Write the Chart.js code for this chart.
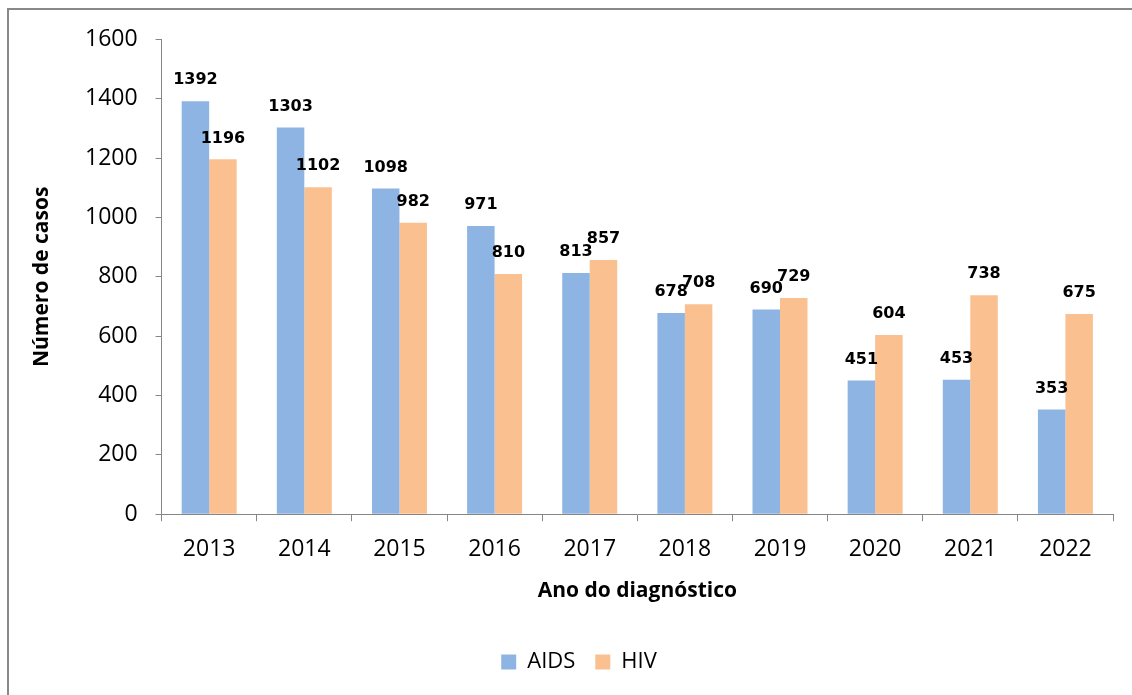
<!DOCTYPE html>
<html lang="pt-br">
<head>
    <meta charset="UTF-8">
    <title>Casos de AIDS e HIV por ano do diagnóstico</title>
    <script src="https://cdn.jsdelivr.net/npm/chart.js"></script>
    <style>
        html, body { margin: 0; padding: 0; background: #fff; overflow: hidden; }
        body { width: 1132px; height: 695px; position: relative; }
        #moldura {
            position: absolute; left: 7px; top: 8px;
            width: 1160px; height: 720px;
            border: 2px solid #888;
            background: #fff;
        }
        #grafico { position: absolute; left: 0; top: 0; }
    </style>
</head>
<body>
    <div id="moldura">
        <canvas id="grafico" width="1140" height="700"></canvas>
    </div>

<script>
    // dados
    const anos = ['2013', '2014', '2015', '2016', '2017', '2018', '2019', '2020', '2021', '2022'];
    const casosAids = [1392, 1303, 1098, 971, 813, 678, 690, 451, 453, 353];
    const casosHiv = [1196, 1102, 982, 810, 857, 708, 729, 604, 738, 675];
    const ticksY = [0, 200, 400, 600, 800, 1000, 1200, 1400, 1600];

    const corEixo = '#868686';
    const fonte = '"Open Sans", sans-serif';

    // rótulos com o valor em cima de cada barra
    const rotulos = {
        id: 'rotulos',
        afterDatasetsDraw(chart) {
            const ctx = chart.ctx;
            ctx.save();
            ctx.font = 'bold 16px "DejaVu Sans"';
            ctx.fillStyle = '#000';
            ctx.textAlign = 'center';
            ctx.textBaseline = 'middle';
            chart.data.datasets.forEach((ds, i) => {
                chart.getDatasetMeta(i).data.forEach((barra, j) => {
                    ctx.fillText(ds.data[j], barra.x, barra.y - 21);
                });
            });
            ctx.restore();
        }
    };

    new Chart(document.getElementById('grafico'), {
        type: 'bar',
        data: {
            labels: anos,
            datasets: [
                { label: 'AIDS', data: casosAids, backgroundColor: '#8EB4E3' },
                { label: 'HIV', data: casosHiv, backgroundColor: '#FAC090' }
            ]
        },
        options: {
            responsive: false,
            animation: false,
            layout: { padding: { left: 36, right: 36, top: 0, bottom: 27 } },
            datasets: { bar: { categoryPercentage: 0.578, barPercentage: 1 } },
            scales: {
                x: {
                    grid: { drawOnChartArea: false, tickLength: 7, color: corEixo },
                    border: { color: corEixo },
                    ticks: { color: '#000', padding: 14, font: { family: fonte, size: 23 } },
                    title: {
                        display: true, text: 'Ano do diagnóstico', color: '#000',
                        font: { family: fonte, size: 21, weight: 'bold' },
                        padding: { top: 2, bottom: 27 }
                    }
                },
                y: {
                    min: 0, max: 1600,
                    afterBuildTicks: (eixo) => { eixo.ticks = ticksY.map(v => ({ value: v })); },
                    grid: { drawOnChartArea: false, tickLength: 6, color: corEixo },
                    border: { color: corEixo },
                    ticks: {
                        color: '#000', padding: 18,
                        font: { family: fonte, size: 23, lineHeight: 1 },
                        callback: (v) => String(v)
                    },
                    title: {
                        display: true, text: 'Número de casos', color: '#000',
                        font: { family: fonte, size: 21, weight: 'bold' },
                        padding: { top: -15.6, bottom: 12.4 }
                    }
                }
            },
            plugins: {
                legend: {
                    position: 'bottom',
                    labels: {
                        color: '#000', boxWidth: 15, boxHeight: 15, padding: 20,
                        font: { family: fonte, size: 22 }
                    }
                },
                tooltip: { enabled: false }
            }
        },
        plugins: [rotulos]
    });
</script>
</body>
</html>
